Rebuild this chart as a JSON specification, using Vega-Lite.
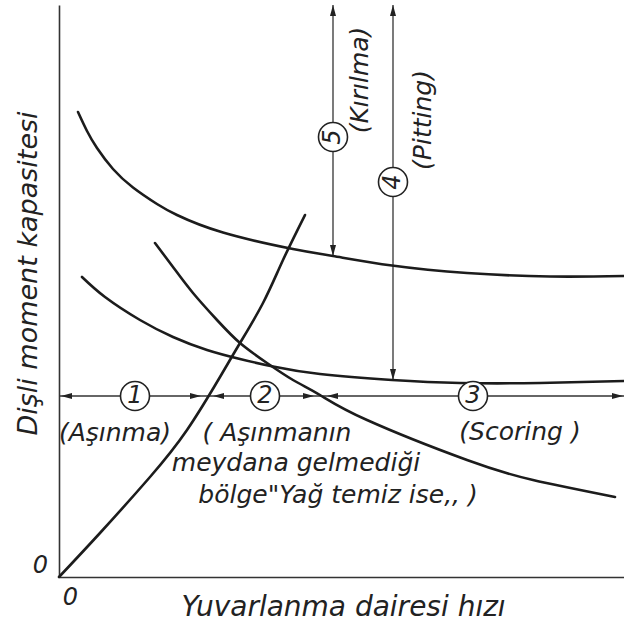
{
  "$schema": "https://vega.github.io/schema/vega-lite/v6.json",
  "width": 565,
  "height": 572,
  "autosize": {"type": "none"},
  "padding": {"left": 59, "top": 5, "right": 0, "bottom": 49},
  "background": "white",
  "config": {
    "view": {"stroke": null},
    "font": "DejaVu Sans",
    "text": {"font": "DejaVu Sans", "fontStyle": "italic", "color": "#222"}
  },
  "datasets": {
    "curves": [
      {"curve": "A", "x": 3.8, "y": 93.0}, {"curve": "A", "x": 5.6, "y": 89.2}, {"curve": "A", "x": 7.6, "y": 85.8},
      {"curve": "A", "x": 10.8, "y": 81.6}, {"curve": "A", "x": 14.8, "y": 77.9}, {"curve": "A", "x": 19.6, "y": 74.6},
      {"curve": "A", "x": 23.6, "y": 72.4}, {"curve": "A", "x": 32.8, "y": 68.9},
      {"curve": "A", "x": 46.8, "y": 65.6}, {"curve": "A", "x": 54.8, "y": 64.2}, {"curve": "A", "x": 66.6, "y": 62.3},
      {"curve": "A", "x": 81.6, "y": 60.8}, {"curve": "A", "x": 98.2, "y": 60.1}, {"curve": "A", "x": 113, "y": 60.2},
      {"curve": "B", "x": 4.6, "y": 60.0}, {"curve": "B", "x": 9.2, "y": 56.0}, {"curve": "B", "x": 16.2, "y": 51.4},
      {"curve": "B", "x": 22.8, "y": 48.0}, {"curve": "B", "x": 29.6, "y": 45.4}, {"curve": "B", "x": 36.2, "y": 43.6},
      {"curve": "B", "x": 42.8, "y": 42.1}, {"curve": "B", "x": 52.2, "y": 40.6}, {"curve": "B", "x": 66.6, "y": 39.4},
      {"curve": "B", "x": 80.2, "y": 38.8}, {"curve": "B", "x": 96.2, "y": 38.8}, {"curve": "B", "x": 113, "y": 39.2},
      {"curve": "C", "x": 19.2, "y": 66.8}, {"curve": "C", "x": 22.8, "y": 62.0}, {"curve": "C", "x": 26.8, "y": 56.8},
      {"curve": "C", "x": 31.6, "y": 51.4}, {"curve": "C", "x": 36.2, "y": 46.8}, {"curve": "C", "x": 41.6, "y": 42.8},
      {"curve": "C", "x": 46.8, "y": 39.4}, {"curve": "C", "x": 52.2, "y": 36.4}, {"curve": "C", "x": 61.6, "y": 31.4},
      {"curve": "C", "x": 81.6, "y": 23.4}, {"curve": "C", "x": 94.8, "y": 19.4}, {"curve": "C", "x": 111.2, "y": 16.0},
      {"curve": "D", "x": 0, "y": 0}, {"curve": "D", "x": 8.2, "y": 8.8}, {"curve": "D", "x": 18.2, "y": 20.0},
      {"curve": "D", "x": 25.6, "y": 29.4}, {"curve": "D", "x": 32.2, "y": 40.0}, {"curve": "D", "x": 36.2, "y": 46.8},
      {"curve": "D", "x": 40.8, "y": 54.8}, {"curve": "D", "x": 44.8, "y": 63.4}, {"curve": "D", "x": 49.2, "y": 72.4}
    ],
    "guides": [
      {"x": 0, "y": 36.2, "x2": 113, "y2": 36.2},
      {"x": 54.8, "y": 64.2, "x2": 54.8, "y2": 114.4},
      {"x": 66.8, "y": 39.4, "x2": 66.8, "y2": 114.4}
    ],
    "heads": [
      {"x": 0.4, "y": 36.2, "rot": 180}, {"x": 28.4, "y": 36.2, "rot": 0},
      {"x": 30.8, "y": 36.2, "rot": 180}, {"x": 51.0, "y": 36.2, "rot": 0},
      {"x": 53.6, "y": 36.2, "rot": 180}, {"x": 112.8, "y": 36.2, "rot": 0},
      {"x": 54.8, "y": 114.4, "rot": 270}, {"x": 54.8, "y": 64.2, "rot": 90},
      {"x": 66.8, "y": 114.4, "rot": 270}, {"x": 66.8, "y": 39.4, "rot": 90}
    ],
    "zones": [
      {"x": 15.2, "y": 36.2, "num": "1", "rot": 0},
      {"x": 41.2, "y": 36.2, "num": "2", "rot": 0},
      {"x": 82.8, "y": 36.2, "num": "3", "rot": 0},
      {"x": 66.8, "y": 79.0, "num": "4", "rot": 270},
      {"x": 54.8, "y": 88.0, "num": "5", "rot": 270}
    ],
    "notes": [
      {"x": 11.2, "y": 28.8, "label": "(Aşınma)", "rot": 0},
      {"x": 43.6, "y": 28.8, "label": "( Aşınmanın", "rot": 0},
      {"x": 47.4, "y": 22.8, "label": "meydana gelmediği", "rot": 0},
      {"x": 55.8, "y": 16.4, "label": "bölge\"Yağ temiz ise,, )", "rot": 0},
      {"x": 92.2, "y": 29.0, "label": "(Scoring )", "rot": 0},
      {"x": 60.2, "y": 99.4, "label": "(Kırılma)", "rot": 270},
      {"x": 72.8, "y": 91.4, "label": "(Pitting)", "rot": 270}
    ]
  },
  "encoding": {
    "x": {
      "field": "x", "type": "quantitative",
      "scale": {"domain": [0, 113], "nice": false, "zero": false},
      "axis": {
        "values": [0], "ticks": false, "grid": false,
        "domainColor": "#333", "domainWidth": 1.6,
        "labelFont": "DejaVu Sans", "labelFontStyle": "italic", "labelFontSize": 24, "labelColor": "#222",
        "labelAlign": "center", "labelBaseline": "middle", "labelOffset": 11, "labelPadding": 20,
        "title": "Yuvarlanma dairesi hızı",
        "titleFont": "DejaVu Sans", "titleFontStyle": "italic", "titleFontWeight": "normal", "titleFontSize": 28,
        "titleColor": "#222", "titleAlign": "center", "titleBaseline": "middle", "titleX": 284, "titleY": 30
      }
    },
    "y": {
      "field": "y", "type": "quantitative",
      "scale": {"domain": [0, 114.4], "nice": false, "zero": false},
      "axis": {
        "values": [0], "ticks": false, "grid": false,
        "domainColor": "#333", "domainWidth": 1.6,
        "labelFont": "DejaVu Sans", "labelFontStyle": "italic", "labelFontSize": 24, "labelColor": "#222",
        "labelAlign": "center", "labelBaseline": "middle", "labelOffset": -12, "labelPadding": 19,
        "title": "Dişli moment kapasitesi",
        "titleFont": "DejaVu Sans", "titleFontStyle": "italic", "titleFontWeight": "normal", "titleFontSize": 27,
        "titleColor": "#222", "titleAlign": "center", "titleBaseline": "middle", "titleAngle": 270,
        "titleX": -31, "titleY": 268
      }
    }
  },
  "layer": [
    {
      "data": {"name": "guides"},
      "mark": {"type": "rule", "color": "#333", "strokeWidth": 1.3},
      "encoding": {"x2": {"field": "x2"}, "y2": {"field": "y2"}}
    },
    {
      "data": {"name": "curves"},
      "mark": {"type": "line", "interpolate": "natural", "color": "#1c1c1c", "strokeWidth": 2.6, "strokeCap": "round"},
      "encoding": {"detail": {"field": "curve", "type": "nominal"}}
    },
    {
      "data": {"name": "heads"},
      "mark": {"type": "point", "shape": "M0,0L-2,-0.55L-2,0.55Z", "filled": true, "color": "#222", "opacity": 1, "size": 121},
      "encoding": {"angle": {"field": "rot", "type": "quantitative", "scale": null}}
    },
    {
      "data": {"name": "zones"},
      "mark": {"type": "point", "shape": "circle", "filled": false, "fill": "white", "fillOpacity": 1, "stroke": "#222", "strokeWidth": 1.6, "opacity": 1, "size": 841}
    },
    {
      "data": {"name": "zones"},
      "mark": {"type": "text", "fontSize": 24, "align": "center", "baseline": "middle"},
      "encoding": {
        "text": {"field": "num"},
        "angle": {"field": "rot", "type": "quantitative", "scale": null}
      }
    },
    {
      "data": {"name": "notes"},
      "mark": {"type": "text", "fontSize": 25, "align": "center", "baseline": "middle"},
      "encoding": {
        "text": {"field": "label"},
        "angle": {"field": "rot", "type": "quantitative", "scale": null}
      }
    }
  ]
}
